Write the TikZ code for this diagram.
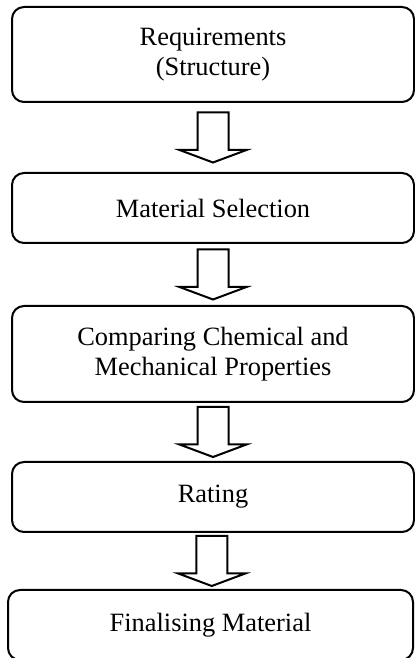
\documentclass[tikz,border=0pt]{standalone}
\usepackage{fontspec}
\setmainfont{Liberation Serif}
\usetikzlibrary{calc}

\tikzset{
  stagebox/.style={draw, line width=1pt, rounded corners=6pt, align=center, inner sep=0pt,
    minimum width=201pt, font=\fontsize{13.2}{14.8}\selectfont},
  flowarrow/.style={draw, line width=1pt, fill=white}
}
% hollow block arrow, centred in the gap between two boxes
\newcommand{\flowarrow}[2]{%
  \path ($(#1.south)!0.5!(#2.north)$) coordinate (#1-#2);
  \draw[flowarrow] (#1-#2) ++(-15.5,25) -- ++(0,-37.5) -- ++(-18,0) -- ++(33.5,-12.5)
    -- ++(33.5,12.5) -- ++(-18,0) -- ++(0,37.5) -- cycle;}

\begin{document}
\begin{tikzpicture}[x=0.5pt, y=0.5pt]
	\useasboundingbox (0,0) rectangle (415,658);
	\node[stagebox, minimum height=47.5pt] (req) at (213,603.5) {Requirements\\(Structure)};
	\node[stagebox, minimum height=35pt] (sel) at (213,450) {Material Selection};
	\node[stagebox, minimum height=48pt] (cmp) at (213,304) {Comparing Chemical and\\Mechanical Properties};
	\node[stagebox, minimum height=35pt] (rat) at (213,161) {Rating};
	\node[stagebox, minimum height=35pt, minimum width=202.5pt] (fin) at (210.5,33) {Finalising Material};
	\flowarrow{req}{sel}
	\flowarrow{sel}{cmp}
	\flowarrow{cmp}{rat}
	\flowarrow{rat}{fin}
\end{tikzpicture}
\end{document}
